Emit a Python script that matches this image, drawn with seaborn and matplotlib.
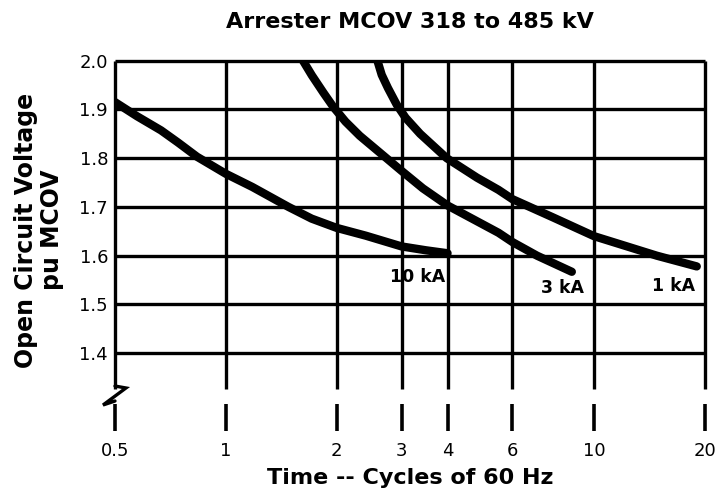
import numpy as np
import pandas as pd
import seaborn as sns
import matplotlib
matplotlib.use("Agg")
import matplotlib.pyplot as plt
from matplotlib.ticker import NullLocator

# values
t_10ka = [0.5, 0.574, 0.667, 0.742, 0.835, 1.0, 1.18, 1.48, 1.71, 2.0, 2.4, 3.0, 3.5, 4.0]
v_10ka = [1.915, 1.886, 1.857, 1.832, 1.803, 1.768, 1.741, 1.70, 1.676, 1.657, 1.641, 1.619, 1.611, 1.605]

t_3ka = [1.62, 1.712, 1.842, 1.959, 2.113, 2.31, 2.74, 3.0, 3.43, 4.0, 5.5, 6.0, 7.0, 8.7]
v_3ka = [2.0, 1.970, 1.934, 1.905, 1.875, 1.846, 1.799, 1.774, 1.738, 1.703, 1.647, 1.628, 1.60, 1.567]

t_1ka = [2.58, 2.65, 2.755, 2.91, 3.076, 3.37, 3.98, 4.81, 5.5, 6.0, 7.71, 10.0, 12.05, 14.8, 19.0]
v_1ka = [2.0, 1.971, 1.944, 1.91, 1.883, 1.85, 1.80, 1.76, 1.735, 1.716, 1.679, 1.64, 1.621, 1.60, 1.578]

curve_names = ["10 kA", "3 kA", "1 kA"]
label_t = [3.31, 8.22, 16.4]
label_v = [1.556, 1.533, 1.537]

x_ticks = [0.5, 1, 2, 3, 4, 6, 10, 20]
x_tick_labels = ["0.5", "1", "2", "3", "4", "6", "10", "20"]
y_ticks = [1.4, 1.5, 1.6, 1.7, 1.8, 1.9, 2.0]
y_tick_labels = ["1.4", "1.5", "1.6", "1.7", "1.8", "1.9", "2.0"]

df = pd.concat([
    pd.DataFrame({"t": t_10ka, "v": v_10ka, "curve": "10 kA"}),
    pd.DataFrame({"t": t_3ka, "v": v_3ka, "curve": "3 kA"}),
    pd.DataFrame({"t": t_1ka, "v": v_1ka, "curve": "1 kA"}),
], ignore_index=True)

sns.set_theme(style="white")
plt.rcParams["font.family"] = ["DejaVu Sans"]
plt.rcParams["text.color"] = "black"

fig = plt.figure(figsize=(7.2, 4.95), dpi=100)
ax = fig.add_axes([0.1597, 0.1301, 0.8194, 0.7473])
ax.set_xscale("log")
ax.set_xlim(0.5, 20)
ax.set_ylim(1.2412, 2.0)

# grid drawn by hand: long lines above the break, short stubs below it
ax.vlines(x_ticks, 1.3275, 2.0, color="black", lw=2.4, clip_on=False, zorder=2)
ax.vlines(x_ticks, 1.2412, 1.2967, color="black", lw=2.6, clip_on=False, zorder=2)
ax.hlines(y_ticks, 0.5, 20, color="black", lw=2.4, clip_on=False, zorder=2)

sns.lineplot(data=df, x="t", y="v", hue="curve", palette={n: "black" for n in curve_names},
             lw=6, legend=False, estimator=None, sort=True, solid_capstyle="round", ax=ax, zorder=3)

for name, tx, ty in zip(curve_names, label_t, label_v):
    ax.text(tx, ty, name, ha="center", va="center", fontsize=12.5, fontweight="bold", color="black")

# axis break mark at the lower left
ax.plot([0, 0.0186, -0.0203, 0], [0.1205, 0.1152, 0.0692, 0.080], color="black", lw=2.4,
        transform=ax.transAxes, clip_on=False, solid_joinstyle="miter")

for s in ax.spines.values():
    s.set_visible(False)
ax.set_xticks(x_ticks)
ax.set_xticklabels(x_tick_labels)
ax.xaxis.set_minor_locator(NullLocator())
ax.set_yticks(y_ticks)
ax.set_yticklabels(y_tick_labels)
ax.tick_params(axis="both", length=0, labelsize=13, colors="black")
ax.tick_params(axis="x", pad=8)
ax.tick_params(axis="y", pad=5)
ax.set_xlabel("")
ax.set_ylabel("")

fig.text(410 / 720, 1 - 22 / 495, "Arrester MCOV 318 to 485 kV", ha="center", va="center",
         fontsize=16, fontweight="bold", color="black")
fig.text(410 / 720, 1 - 478 / 495, "Time -- Cycles of 60 Hz", ha="center", va="center",
         fontsize=16, fontweight="bold", color="black")
fig.text(39 / 720, 1 - 230 / 495, "Open Circuit Voltage\npu MCOV", ha="center", va="center",
         rotation=90, multialignment="center", linespacing=1.1, fontsize=17, fontweight="bold",
         color="black")

fig.savefig("out.png", dpi=100, facecolor="white")
